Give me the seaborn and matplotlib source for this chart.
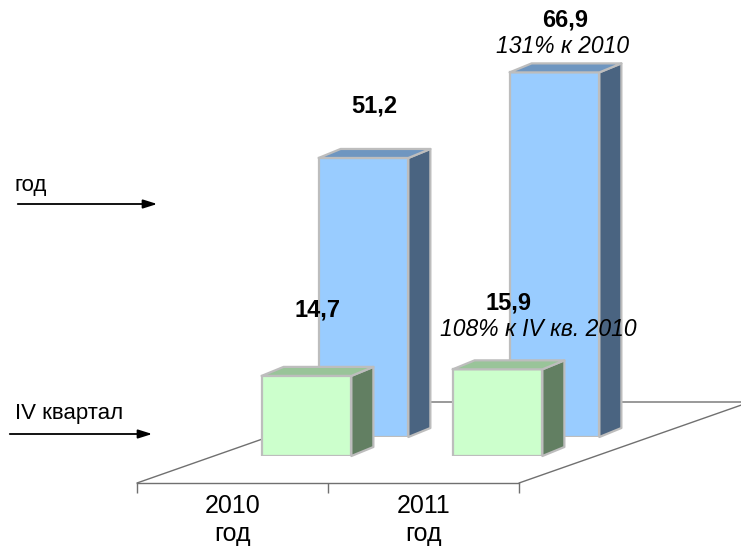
import numpy as np
import pandas as pd
import seaborn as sns
import matplotlib.pyplot as plt
from matplotlib.patches import Polygon

# data
years = ['2010\nгод', '2011\nгод']
year_totals = [51.2, 66.9]
q4_totals = [14.7, 15.9]
year_notes = ['', '131% к 2010']
q4_notes = ['', '108% к IV кв. 2010']

sns.set_theme(style='white')
plt.rcParams['font.family'] = ['Liberation Sans', 'DejaVu Sans']
plt.rcParams['text.color'] = 'black'
plt.rcParams['xtick.color'] = 'black'

W, H = 741, 551
fig = plt.figure(figsize=(W / 100, H / 100), dpi=100)

# layout (pixels)
step = 191            # one category along the floor front edge
px_unit = 5.45        # pixels per value unit
ymax = 80
floor_left, floor_y = 137, H - 483
floor_depth = (231, 81)
bar_depth = (22, 9)
edge = '#BDBDBD'

# floor
floor = fig.add_axes([floor_left / W, floor_y / H, 2 * step / W, floor_depth[1] / H])
floor.set_xlim(-0.5, 1.5)
floor.set_ylim(0, 1)
floor.patch.set_alpha(0)
for s in ['left', 'right', 'top']:
    floor.spines[s].set_visible(False)
floor.spines['bottom'].set_color('#707070')
floor.spines['bottom'].set_linewidth(1)
floor.set_yticks([])
floor.set_xticks([0, 1])
floor.set_xticklabels(years, fontsize=18, linespacing=1.2, color='black')
floor.set_xticks([-0.5, 0.5, 1.5], minor=True)
floor.tick_params(axis='x', which='major', length=0, pad=8)
floor.tick_params(axis='x', which='minor', length=7, width=1, color='#707070',
                  direction='out', bottom=True)
back = floor_depth[0] / step
floor.plot([-0.5, -0.5 + back, 1.5 + back, 1.5], [0, 1, 1, 0],
           color='#707070', lw=1, clip_on=False)


def bar_row(dx, dy, values, notes, front, side, top, gap, note_shift):
    ax = fig.add_axes([(floor_left + dx) / W, (floor_y + dy) / H,
                       2 * step / W, ymax * px_unit / H])
    sns.barplot(x=years, y=values, ax=ax, width=0.47, color=front, saturation=1,
                edgecolor=edge, linewidth=1.6)
    ax.set_xlim(-0.5, 1.5)
    ax.set_ylim(0, ymax)
    ax.axis('off')
    ddx = bar_depth[0] / step
    ddy = bar_depth[1] / px_unit
    for p, v, note in zip(list(ax.patches), values, notes):
        x0, w, h = p.get_x(), p.get_width(), p.get_height()
        x1 = x0 + w
        ax.add_patch(Polygon([(x1, 0), (x1, h), (x1 + ddx, h + ddy), (x1 + ddx, ddy)],
                             closed=True, facecolor=side, edgecolor=edge,
                             lw=1.6, clip_on=False, joinstyle='round'))
        ax.add_patch(Polygon([(x0, h), (x1, h), (x1 + ddx, h + ddy), (x0 + ddx, h + ddy)],
                             closed=True, facecolor=top, edgecolor=edge,
                             lw=1.6, clip_on=False, joinstyle='round'))
        cx = x0 + w / 2 + ddx / 2
        ax.annotate(f'{v:.1f}'.replace('.', ','), xy=(cx, h), xytext=(0, gap),
                    textcoords='offset pixels', ha='center', va='center',
                    fontsize=17, fontweight='bold', color='black', annotation_clip=False)
        if note:
            ax.annotate(note, xy=(cx, h), xytext=(note_shift, gap - 26),
                        textcoords='offset pixels', ha='center', va='center',
                        fontsize=16.5, fontstyle='italic', color='black',
                        annotation_clip=False)
    return ax


bar_row(131, 46, year_totals, year_notes, '#99CCFF', '#4A6481', '#6F96C0', 52, -3)
bar_row(74, 27, q4_totals, q4_notes, '#CCFFCC', '#627F62', '#99C499', 66, 30)

# row markers on the left
fig.text(15 / W, 1 - 185 / H, 'год', fontsize=16, ha='left', va='center')
fig.text(15 / W, 1 - 414 / H, 'IV квартал', fontsize=16, ha='left', va='center')
arrow = dict(arrowstyle='-|>,head_length=0.7,head_width=0.22', color='black', lw=1.3)
fig.add_artist(plt.Annotation('', xy=(160, H - 204), xytext=(15, H - 204),
                              xycoords='figure pixels', arrowprops=arrow))
fig.add_artist(plt.Annotation('', xy=(155, H - 434), xytext=(7, H - 434),
                              xycoords='figure pixels', arrowprops=arrow))

fig.savefig('out.png', dpi=100)
